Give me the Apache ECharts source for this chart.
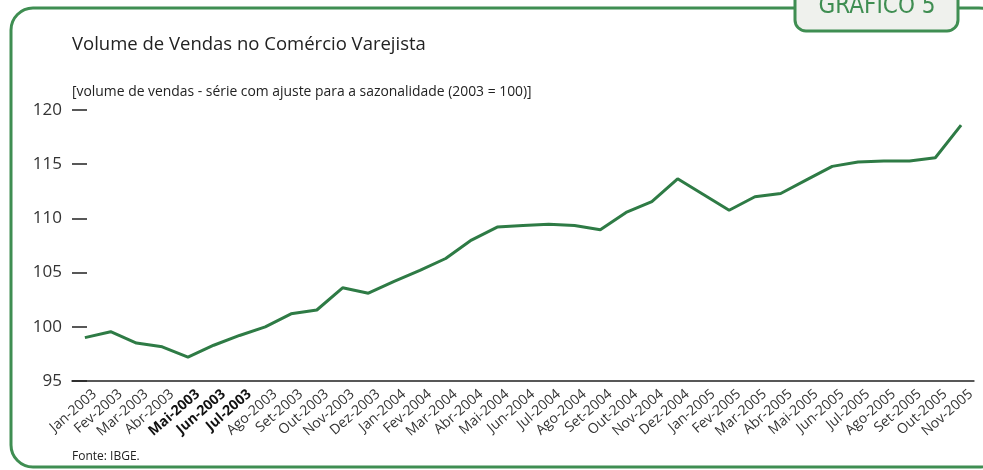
<!DOCTYPE html>
<html>
<head>
<meta charset="utf-8">
<script src="https://cdn.jsdelivr.net/npm/echarts@6/dist/echarts.min.js"></script>
<style>
  html, body { margin: 0; padding: 0; background: #fff; }
  #main { width: 983px; height: 470px; }
</style>
</head>
<body>
<div id="main"></div>
<script>
// meses (jan/2003 a nov/2005)
var meses = ['Jan-2003', 'Fev-2003', 'Mar-2003', 'Abr-2003', 'Mai-2003', 'Jun-2003', 'Jul-2003', 'Ago-2003', 'Set-2003', 'Out-2003', 'Nov-2003', 'Dez-2003',
  'Jan-2004', 'Fev-2004', 'Mar-2004', 'Abr-2004', 'Mai-2004', 'Jun-2004', 'Jul-2004', 'Ago-2004', 'Set-2004', 'Out-2004', 'Nov-2004', 'Dez-2004',
  'Jan-2005', 'Fev-2005', 'Mar-2005', 'Abr-2005', 'Mai-2005', 'Jun-2005', 'Jul-2005', 'Ago-2005', 'Set-2005', 'Out-2005', 'Nov-2005'];
// indice de volume de vendas (2003 = 100)
var volume = [99.0, 99.55, 98.5, 98.15, 97.2, 98.3, 99.2, 100.0, 101.2, 101.55, 103.6, 103.1,
  104.2, 105.2, 106.3, 108.0, 109.2, 109.35, 109.45, 109.35, 108.95, 110.55, 111.55, 113.65,
  112.2, 110.75, 112.0, 112.3, 113.55, 114.8, 115.2, 115.3, 115.3, 115.6, 118.6];
var yTicks = [95, 100, 105, 110, 115, 120];
// esses tres rotulos saem em negrito no original
var negrito = ['Mai-2003', 'Jun-2003', 'Jul-2003'];

var verde = '#3f8e52';
var myChart = echarts.init(document.getElementById('main'));

myChart.setOption({
  backgroundColor: '#fff',
  animation: false,
  textStyle: { fontFamily: 'Open Sans' },
  title: [{
    text: 'Volume de Vendas no Comércio Varejista',
    left: 67, top: 30,
    textStyle: { fontSize: 18.5, fontWeight: 'normal', color: '#222', fontFamily: 'Open Sans' }
  }, {
    text: '[volume de vendas - série com ajuste para a sazonalidade (2003 = 100)]',
    left: 67, top: 80,
    textStyle: { fontSize: 13.9, fontWeight: 'normal', color: '#222', fontFamily: 'Open Sans' }
  }, {
    text: 'Fonte: IBGE.',
    left: 67, top: 446,
    textStyle: { fontSize: 12, fontWeight: 'normal', color: '#222', fontFamily: 'Open Sans' }
  }],
  graphic: [{
    type: 'rect',
    shape: { x: 11, y: 8, width: 990, height: 459, r: 22 },
    style: { fill: 'none', stroke: verde, lineWidth: 3 },
    z: 0, silent: true
  }, {
    type: 'rect',
    shape: { x: 795, y: -12, width: 163, height: 43, r: [0, 0, 11, 11] },
    style: { fill: '#eff1ed', stroke: verde, lineWidth: 3 },
    z: 1, silent: true
  }, {
    type: 'text',
    x: 877, y: 7,
    style: {
      text: 'GRÁFICO 5', fill: verde, align: 'center', verticalAlign: 'middle',
      font: '500 24px "Liberation Sans Narrow", "DejaVu Sans Condensed", sans-serif'
    },
    z: 2, silent: true
  }],
  grid: { left: 72, right: 7, top: 110, bottom: 89, containLabel: false },
  xAxis: {
    type: 'category',
    data: meses,
    boundaryGap: true,
    axisLine: { lineStyle: { color: '#222', width: 1.5 } },
    axisTick: { inside: true, length: 10, lineStyle: { color: '#222', width: 1.5 } },
    axisLabel: {
      interval: 0,
      rotate: 41,
      margin: 0,
      fontSize: 14,
      color: '#333',
      verticalAlign: 'top',
      lineHeight: 30,
      formatter: function (v) {
        return negrito.indexOf(v) >= 0 ? '{b|' + v + '}' : v;
      },
      rich: {
        b: { fontWeight: 'bold', fontSize: 14, color: '#111', lineHeight: 30 }
      }
    },
    splitLine: { show: false }
  },
  yAxis: {
    type: 'value',
    min: yTicks[0],
    max: yTicks[yTicks.length - 1],
    interval: 5,
    axisLine: { show: false },
    axisTick: { show: true, inside: true, length: 15, lineStyle: { color: '#222', width: 1.5 } },
    axisLabel: { fontSize: 17, color: '#333', margin: 10 },
    splitLine: { show: false }
  },
  series: [{
    name: 'Volume de vendas',
    type: 'line',
    data: volume,
    symbol: 'none',
    lineStyle: { color: '#2e7b45', width: 3 }
  }]
});
</script>
</body>
</html>
